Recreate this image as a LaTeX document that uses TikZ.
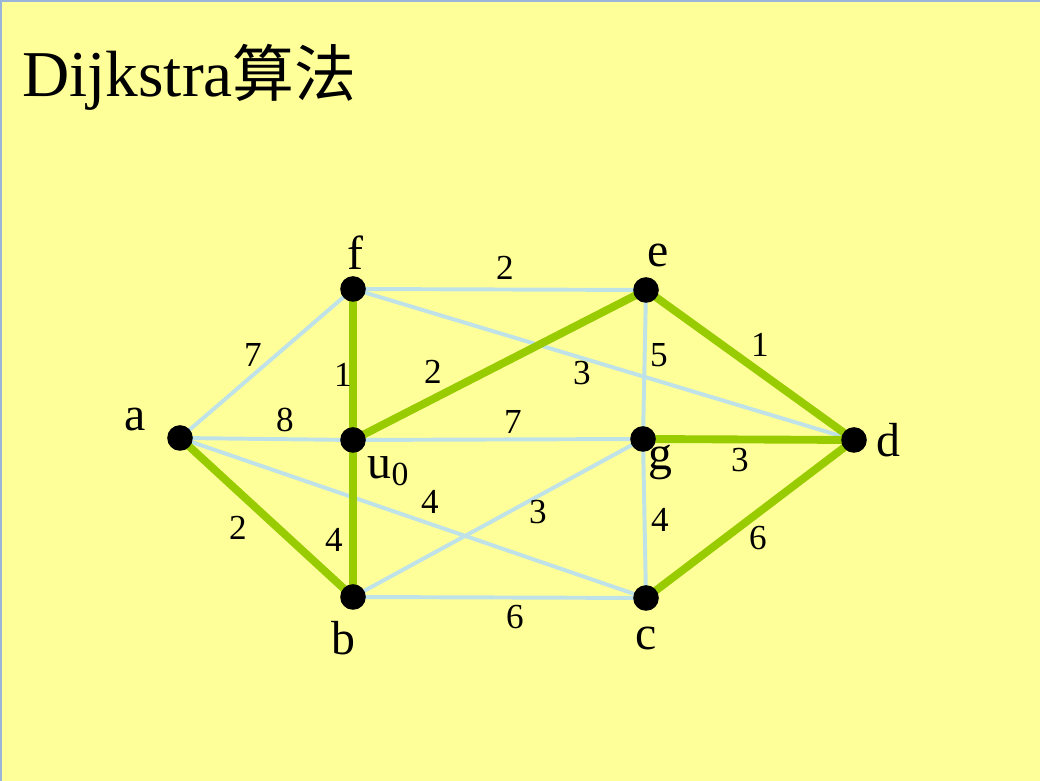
\documentclass[tikz,border=0pt]{standalone}
\usepackage{fontspec}
\setmainfont{Liberation Serif}
\newfontfamily\cjk{Noto Sans CJK SC}
\usetikzlibrary{calc}
\definecolor{slide}{HTML}{FFFF99}
\definecolor{rim}{HTML}{9AB4DA}
\definecolor{pale}{HTML}{BEE2E8}
\definecolor{leaf}{HTML}{99CC00}
\tikzset{
  vtx/.style={circle,fill=black,minimum size=.64cm,inner sep=0pt},
  vlab/.style={inner sep=0pt,font=\fontsize{34}{34}\selectfont},
  wlab/.style={inner sep=0pt,font=\fontsize{25}{25}\selectfont},
  plain/.style={line width=2.8pt,draw=pale},
  tree/.style={line width=5.6pt,draw=leaf}
}
\begin{document}
\begin{tikzpicture}
\fill[slide] (0,0) rectangle (26,19.525);
\useasboundingbox (0,0) rectangle (26,19.525);
\draw[rim,line width=.05cm] (0.025,0) -- (0.025,19.5) -- (26,19.5);
\node[anchor=base west,inner sep=0pt,font=\fontsize{46.5}{46.5}\selectfont] (title) at (0.55,17.1) {Dijkstra{\cjk\fontsize{44}{44}\selectfont 算法}};
\coordinate (P_f) at (8.825,12.3);
\coordinate (P_e) at (16.15,12.275);
\coordinate (P_a) at (4.5,8.575);
\coordinate (P_u) at (8.825,8.525);
\coordinate (P_g) at (16.075,8.55);
\coordinate (P_d) at (21.35,8.525);
\coordinate (P_b) at (8.825,4.6);
\coordinate (P_c) at (16.15,4.575);
\draw[plain] (P_f) -- (P_e);
\draw[plain] (P_f) -- (P_d);
\draw[plain] (P_a) -- (P_f);
\draw[plain] (P_a) -- (P_u);
\draw[plain] (P_u) -- (P_g);
\draw[plain] (P_a) -- (P_c);
\draw[plain] (P_b) -- (P_g);
\draw[plain] (P_b) -- (P_c);
\draw[plain] (P_e) -- (P_g);
\draw[plain] (P_g) -- (P_c);
\draw[tree] (P_f) -- (P_u);
\draw[tree] (P_u) -- (P_e);
\draw[tree] (P_e) -- (P_d);
\draw[tree] (P_g) -- (P_d);
\draw[tree] (P_c) -- (P_d);
\draw[tree] (P_a) -- (P_b);
\draw[tree] (P_u) -- (P_b);
\foreach \v in {f,e,a,u,g,d,b,c}
  \node[vtx] (v\v) at (P_\v) {};
\node[vlab] (nf) at (8.875,13.2) {f};
\node[vlab] (ne) at (16.45,13.15) {e};
\node[vlab] (na) at (3.375,9.025) {a};
\node[vlab] (nd) at (22.2,8.525) {d};
\node[vlab] (ng) at (16.5,7.975) {g};
\node[vlab] (nu) at (9.7,7.75) {u\raisebox{-.3ex}{\fontsize{24}{24}\selectfont 0}};
\node[vlab] (nb) at (8.575,3.575) {b};
\node[vlab] (nc) at (16.15,3.575) {c};
\node[wlab] (w_fe) at (12.625,12.825) {2};
\node[wlab] (w_af) at (6.325,10.65) {7};
\node[wlab] (w_fu) at (8.575,10.15) {1};
\node[wlab] (w_au) at (7.125,9.025) {8};
\node[wlab] (w_ue) at (10.825,10.225) {2};
\node[wlab] (w_fd) at (14.55,10.2) {3};
\node[wlab] (w_eg) at (16.475,10.65) {5};
\node[wlab] (w_ed) at (19.0,10.9) {1};
\node[wlab] (w_ug) at (12.825,8.975) {7};
\node[wlab] (w_gd) at (18.5,8.025) {3};
\node[wlab] (w_ac) at (10.75,6.975) {4};
\node[wlab] (w_bg) at (13.45,6.725) {3};
\node[wlab] (w_gc) at (16.5,6.525) {4};
\node[wlab] (w_cd) at (18.95,6.075) {6};
\node[wlab] (w_ab) at (5.95,6.325) {2};
\node[wlab] (w_ub) at (8.35,6.025) {4};
\node[wlab] (w_bc) at (12.875,4.1) {6};
\end{tikzpicture}
\end{document}
